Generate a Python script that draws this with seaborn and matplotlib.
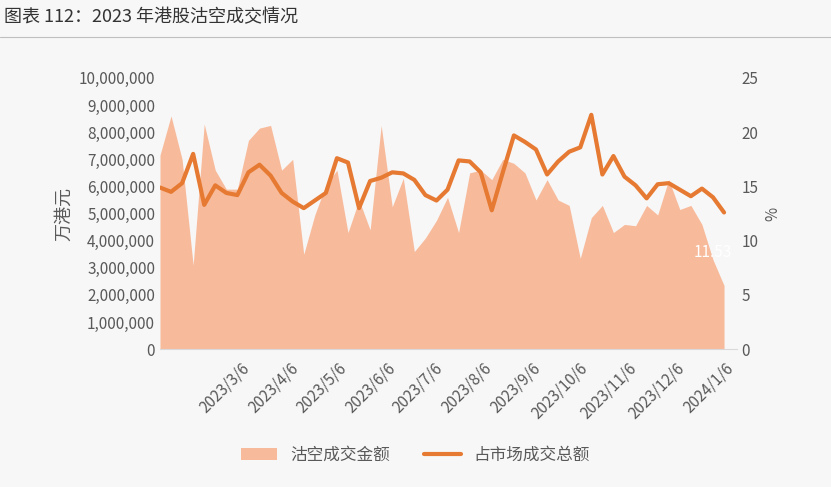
import matplotlib
matplotlib.use("Agg")
import matplotlib.pyplot as plt
import matplotlib.dates as mdates
import seaborn as sns
import pandas as pd
import numpy as np

dates = pd.date_range("2023-01-06", periods=52, freq="7D")
short_amount = [7.15,8.6,7.0,3.1,8.3,6.6,5.9,5.9,7.7,8.15,8.25,6.6,7.0,3.5,4.95,6.05,6.6,4.3,5.5,4.4,
                8.25,5.25,6.3,3.6,4.1,4.75,5.6,4.3,6.5,6.6,6.25,7.0,6.85,6.5,5.5,6.25,5.5,5.3,3.35,4.85,
                5.3,4.3,4.6,4.55,5.3,4.95,6.25,5.15,5.3,4.6,3.3,2.35]
short_amount = [v*1e6 for v in short_amount]
market_share = [14.9,14.5,15.3,18.0,13.3,15.1,14.4,14.2,16.3,17.0,16.0,14.4,13.6,13.0,13.7,14.4,17.6,17.2,13.0,15.5,
                15.8,16.3,16.2,15.6,14.2,13.7,14.7,17.4,17.3,16.3,12.8,16.3,19.7,19.1,18.4,16.1,17.3,18.2,18.6,21.6,
                16.1,17.8,15.9,15.1,13.9,15.2,15.3,14.7,14.1,14.8,14.0,12.6]
tick_dates = pd.date_range("2023-02-06", periods=11, freq="MS") + pd.Timedelta(days=5)
df = pd.DataFrame({"date": dates, "amt": short_amount, "pct": market_share})

sns.set_style("white")
plt.rcParams['font.family'] = ['Noto Sans CJK SC', 'DejaVu Sans']
bg = "#f7f7f7"
fig = plt.figure(figsize=(8.31, 4.87), dpi=100, facecolor=bg)
ax = fig.add_axes([0.1925, 0.283, 0.694, 0.557], facecolor=bg)
ax.fill_between(df["date"], df["amt"], color="#f7bb9c", lw=0, label="沽空成交金额")
ax.set_ylim(0, 1e7)
ax.set_yticks(np.arange(0, 1.0001e7, 1e6))
ax.yaxis.set_major_formatter(matplotlib.ticker.FuncFormatter(lambda v, p: f"{int(v):,}"))
ax.set_xlim(dates[0], dates[-1] + pd.Timedelta(days=1))
ax.set_xticks(tick_dates)
ax.set_xticklabels([f"{d.year}/{d.month}/{d.day}" for d in tick_dates], rotation=45, ha="right")
ax.tick_params(axis="x", labelsize=11, colors="#595959", length=4, color="#d9d9d9")
ax.tick_params(axis="y", labelsize=11, colors="#595959", length=0)
ax.set_ylabel("万港元", fontsize=13, color="#595959")
for s in ["top", "right", "left"]:
    ax.spines[s].set_visible(False)
ax.spines["bottom"].set_color("#d9d9d9")

ax2 = ax.twinx()
sns.lineplot(data=df, x="date", y="pct", ax=ax2, color="#e67a32", lw=3, label="占市场成交总额", legend=False)
ax2.set_ylim(0, 25)
ax2.set_yticks(range(0, 26, 5))
ax2.tick_params(axis="y", labelsize=11, colors="#595959", length=0)
ax2.set_ylabel("%", fontsize=11, color="#595959")
ax2.set_xlabel("")
for s in ax2.spines.values():
    s.set_visible(False)
ax2.text(dates[-2], 8.5, "11.53", color="white", fontsize=11, ha="center")

h1, l1 = ax.get_legend_handles_labels()
h2, l2 = ax2.get_legend_handles_labels()
fig.legend(h1 + h2, l1 + l2, loc="center", bbox_to_anchor=(0.5, 0.065), ncol=2, frameon=False,
           fontsize=12, labelcolor="#595959", handlelength=2.2, columnspacing=2)

fig.text(0.005, 0.965, "图表 112：2023 年港股沽空成交情况", fontsize=13, color="#333333", va="center")
fig.add_artist(plt.Line2D([0.0, 1.0], [0.925, 0.925], color="#bfbfbf", lw=0.8))
fig.savefig("out.png", dpi=100, facecolor=bg)
